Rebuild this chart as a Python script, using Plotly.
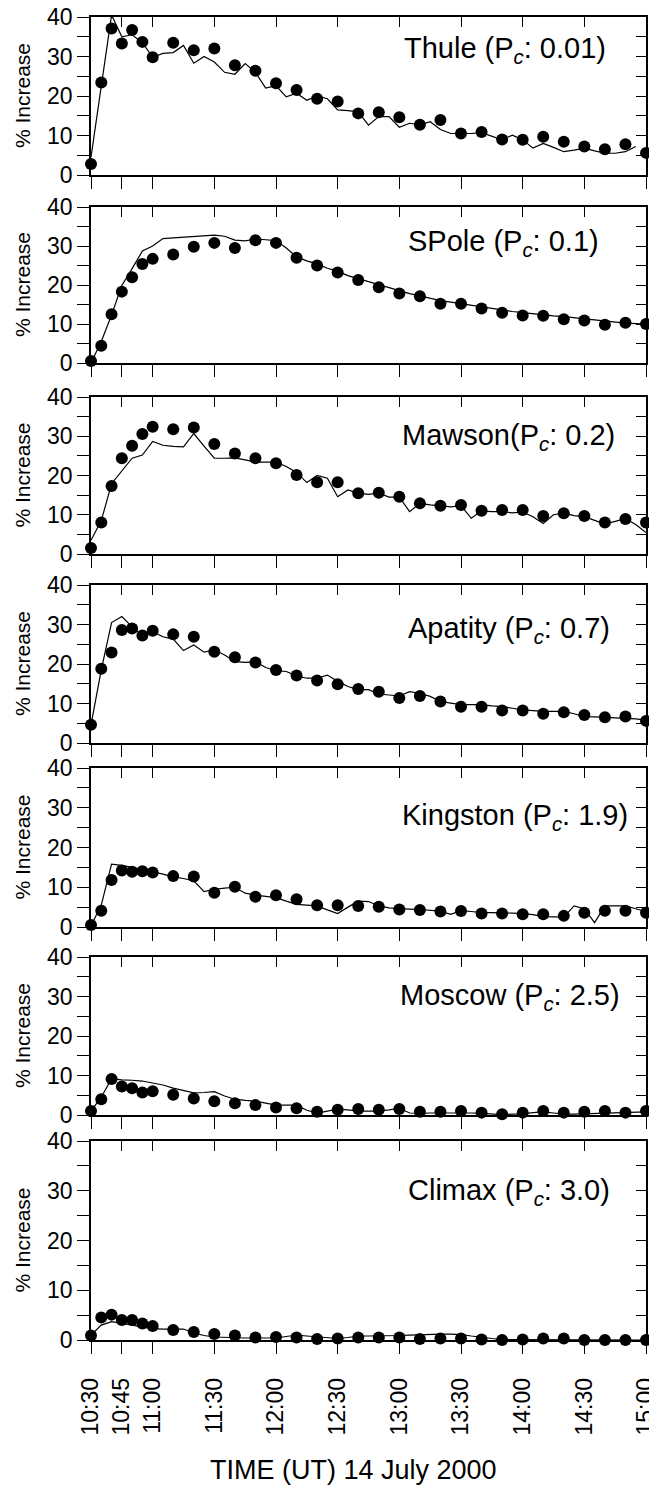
import plotly.graph_objects as go

# ---------------- data ----------------
DATE = "2000-07-14 "
obs_times = ["10:30", "10:35", "10:40", "10:45", "10:50", "10:55", "11:00",
             "11:10", "11:20", "11:30", "11:40", "11:50", "12:00", "12:10",
             "12:20", "12:30", "12:40", "12:50", "13:00", "13:10", "13:20",
             "13:30", "13:40", "13:50", "14:00", "14:10", "14:20", "14:30",
             "14:40", "14:50", "15:00"]
model_times = ["10:30", "10:35", "10:40", "10:45", "10:50", "10:55", "11:00",
               "11:05", "11:10", "11:15", "11:20", "11:25", "11:30", "11:35",
               "11:40", "11:45", "11:50", "11:55", "12:00", "12:05", "12:10",
               "12:15", "12:20", "12:25", "12:30", "12:35", "12:40", "12:45",
               "12:50", "12:55", "13:00", "13:05", "13:10", "13:15", "13:20",
               "13:25", "13:30", "13:35", "13:40", "13:45", "13:50", "13:55",
               "14:00", "14:05", "14:10", "14:15", "14:20", "14:25", "14:30",
               "14:35", "14:40", "14:45", "14:50", "14:55", "15:00"]
tick_labels = ["10:30", "10:45", "11:00", "11:30", "12:00", "12:30", "13:00",
               "13:30", "14:00", "14:30", "15:00"]

stations = ["Thule", "SPole", "Mawson", "Apatity", "Kingston", "Moscow", "Climax"]
cutoff = ["0.01", "0.1", "0.2", "0.7", "1.9", "2.5", "3.0"]

thule_obs = [2.8, 23.4, 37.1, 33.3, 36.7, 33.7, 29.8, 33.5, 31.6, 32.0, 27.8,
             26.4, 23.2, 21.5, 19.3, 18.6, 15.6, 15.9, 14.6, 12.7, 13.9, 10.5,
             10.9, 9.0, 8.9, 9.7, 8.4, 7.2, 6.5, 7.8, 5.6]
thule_model = [4.5, 23.0, 40.5, 35.0, 35.5, 33.5, 29.8, 30.8, 31.0, 32.8, 28.3,
               30.0, 28.6, 26.0, 25.5, 28.2, 26.0, 22.0, 22.6, 19.8, 20.7, 18.9,
               20.0, 19.3, 16.5, 16.3, 16.0, 12.6, 14.8, 14.8, 12.1, 13.1, 12.7,
               13.5, 11.5, 10.5, 10.5, 10.5, 10.7, 9.8, 8.9, 10.1, 8.9, 6.8,
               8.0, 7.0, 5.9, 6.3, 6.8, 6.1, 5.5, 5.5, 5.9, 7.2, None]

spole_obs = [0.5, 4.4, 12.5, 18.3, 22.0, 25.4, 26.7, 27.8, 29.8, 30.8, 29.5,
             31.5, 30.8, 27.0, 25.0, 23.2, 21.3, 19.4, 17.8, 17.1, 15.2, 15.2,
             14.0, 12.9, 12.2, 12.1, 11.2, 10.9, 9.8, 10.3, 10.0]
spole_model = [0.0, 5.5, 12.3, 19.9, 24.2, 28.7, 30.0, 31.9, 32.1, 32.3, 32.4,
               32.6, 32.8, 32.5, 31.5, 31.3, 31.8, 31.6, 31.4, 29.5, 27.2, 26.2,
               25.4, 24.3, 23.5, 22.4, 21.6, 20.8, 20.1, 19.3, 18.5, 17.8, 17.2,
               16.6, 16.0, 15.6, 15.2, 14.8, 14.3, 13.9, 13.5, 13.2, 12.9, 12.6,
               12.3, 12.1, 11.9, 11.6, 11.3, 11.0, 10.7, 10.4, 10.2, 10.1, 10.0]

mawson_obs = [1.5, 8.0, 17.3, 24.4, 27.6, 30.6, 32.4, 31.8, 32.2, 28.0, 25.6,
              24.4, 23.1, 20.1, 18.3, 18.3, 15.5, 15.6, 14.6, 12.9, 12.3, 12.5,
              11.0, 11.2, 11.2, 9.7, 10.4, 9.7, 8.0, 8.9, 8.0]
mawson_model = [3.5, 8.5, 17.9, 21.2, 24.4, 25.2, 28.7, 27.7, 27.4, 27.3, 30.7,
                27.5, 24.4, 24.4, 24.5, 24.0, 23.4, 23.4, 23.4, 22.3, 20.8, 18.2,
                20.0, 19.3, 14.6, 16.3, 15.5, 15.2, 15.5, 14.5, 14.5, 10.8, 12.9,
                12.5, 12.3, 12.0, 12.3, 9.1, 11.0, 10.8, 10.8, 10.5, 10.7, 9.5,
                7.8, 10.0, 10.4, 9.8, 9.5, 8.5, 7.6, 8.3, 9.0, 7.5, 5.5]

apatity_obs = [4.6, 18.8, 22.9, 28.6, 29.0, 27.2, 28.4, 27.5, 26.9, 23.1, 21.7,
               20.4, 18.5, 17.1, 15.8, 14.9, 13.7, 13.0, 11.4, 11.9, 10.5, 9.2,
               9.2, 8.2, 8.2, 7.4, 7.8, 7.1, 6.5, 6.7, 5.6]
apatity_model = [4.6, 18.5, 30.5, 32.0, 29.4, 27.3, 28.2, 26.9, 26.3, 23.4, 24.8,
                 23.0, 23.6, 22.3, 20.6, 20.4, 20.6, 19.1, 18.3, 18.1, 17.0, 16.4,
                 16.4, 17.2, 15.6, 14.3, 13.5, 13.5, 12.4, 12.2, 11.9, 13.0, 12.6,
                 11.8, 10.5, 10.1, 9.7, 9.7, 9.7, 9.4, 9.2, 8.8, 8.4, 8.2, 8.0,
                 8.0, 8.0, 7.4, 6.7, 6.6, 6.5, 6.4, 6.3, 6.1, 5.8]

kingston_obs = [0.5, 4.1, 11.8, 14.2, 13.9, 14.0, 13.7, 12.8, 12.7, 8.6, 10.1,
                7.6, 8.0, 7.0, 5.5, 5.5, 5.3, 5.1, 4.4, 4.3, 3.9, 4.0, 3.4, 3.4,
                3.2, 3.2, 2.8, 3.6, 4.1, 4.1, 3.6]
kingston_model = [0.3, 5.5, 15.8, 15.5, 15.0, 14.5, 13.9, 13.3, 12.6, 12.2, 11.6,
                  8.9, 9.5, 9.8, 10.0, 8.5, 8.0, 7.7, 7.4, 6.5, 5.7, 5.5, 5.3,
                  4.3, 3.4, 5.0, 6.5, 6.4, 5.3, 4.8, 4.6, 4.5, 4.4, 4.2, 4.0, 3.2,
                  4.1, 3.9, 3.6, 3.6, 3.6, 3.5, 3.4, 3.1, 2.6, 2.6, 2.5, 5.3, 4.6,
                  1.1, 5.3, 5.3, 5.3, 4.6, 3.9]

moscow_obs = [1.0, 4.0, 9.1, 7.2, 6.8, 5.7, 6.0, 5.1, 4.2, 3.5, 3.0, 2.5, 1.9,
              1.7, 0.8, 1.3, 1.5, 1.3, 1.5, 0.8, 0.8, 1.0, 0.6, 0.2, 0.6, 1.0,
              0.6, 0.8, 1.0, 0.6, 1.0]
moscow_model = [1.0, 4.5, 9.2, 8.9, 8.8, 8.6, 8.1, 7.6, 6.8, 6.2, 5.6, 5.7, 5.9,
                4.8, 4.0, 3.7, 3.5, 3.0, 2.5, 2.5, 2.5, 1.2, 0.5, 1.0, 1.5, 1.3,
                1.0, 1.0, 1.0, 1.3, 1.7, 0.5, 0.4, 0.5, 0.5, 0.6, 0.6, 0.5, 0.4,
                0.2, 0.1, 0.2, 0.3, 0.6, 0.8, 0.5, 0.2, 0.2, 0.3, 0.4, 0.5, 0.6,
                0.7, 0.7, 0.8]

climax_obs = [0.9, 4.5, 5.1, 4.0, 4.0, 3.3, 2.8, 2.0, 1.6, 1.2, 0.9, 0.5, 0.6,
              0.5, 0.2, 0.3, 0.5, 0.5, 0.5, 0.2, 0.3, 0.3, 0.1, 0.0, 0.1, 0.3,
              0.3, 0.0, 0.0, 0.0, 0.0]
climax_model = [1.0, 3.0, 3.7, 3.4, 3.0, 2.6, 2.3, 2.2, 2.2, 2.2, 1.4, 0.9, 0.6,
                0.5, 0.5, 0.4, 0.4, 0.4, 0.4, 0.7, 1.0, 0.8, 0.6, 0.4, 0.3, 0.5,
                0.8, 0.8, 0.8, 0.8, 0.9, 1.0, 1.1, 1.2, 1.2, 1.2, 1.1, 0.8, 0.5,
                0.3, 0.1, 0.1, 0.1, 0.0, 0.0, 0.0, 0.0, 0.0, 0.0, 0.0, 0.0, 0.0,
                0.0, 0.0, 0.0]

obs_series = [thule_obs, spole_obs, mawson_obs, apatity_obs, kingston_obs,
              moscow_obs, climax_obs]
model_series = [thule_model, spole_model, mawson_model, apatity_model,
                kingston_model, moscow_model, climax_model]

# ---------------- layout (pixels of the 657x1498 window) ----------------
PAGE_W, PAGE_H = 657, 1498
OFF = 8                      # default page margin around the figure div
W, H = PAGE_W - OFF, PAGE_H - OFF
X0, X1 = 91, 646
panel_px = [(17, 175), (207, 363), (397, 554), (585, 743),
            (768, 927), (957, 1115), (1141, 1340)]
label_pos = [(608, 50), (601, 243), (617, 437), (612, 630),
             (630, 817), (622, 997), (612, 1192)]
label_sep = [" ", " ", "", " ", " ", " ", " "]

FONT = "Liberation Sans, Arial, Helvetica, sans-serif"
INK = "black"


def fx(px):
    return (px - OFF) / W


def fy(px):
    return 1 - (px - OFF) / H


def sfx(n):
    return "" if n == 1 else str(n)


obs_x = [DATE + t for t in obs_times]
model_x = [DATE + t for t in model_times]
tick_x = [DATE + t for t in tick_labels]
x_range = [DATE + "10:30", DATE + "15:00"]

fig = go.Figure()
layout = {}
annotations = []

for i in range(7):
    nb, nt = 2 * i + 1, 2 * i + 2
    xb, xt = "x" + sfx(nb), "x" + sfx(nt)
    yl, yr = "y" + sfx(nb), "y" + sfx(nt)

    fig.add_trace(go.Scatter(x=model_x, y=model_series[i], mode="lines",
                             line=dict(color=INK, width=1.2),
                             xaxis=xb, yaxis=yl, showlegend=False,
                             hoverinfo="skip"))
    fig.add_trace(go.Scatter(x=obs_x, y=obs_series[i], mode="markers",
                             marker=dict(size=12, color=INK),
                             xaxis=xb, yaxis=yl, showlegend=False,
                             cliponaxis=False))
    fig.add_trace(go.Scatter(x=[None], y=[None], mode="markers",
                             xaxis=xt, yaxis=yr, showlegend=False,
                             hoverinfo="skip"))

    top, bot = panel_px[i]
    common_x = dict(type="date", range=x_range, tickvals=tick_x,
                    ticktext=tick_labels, showgrid=False, zeroline=False,
                    showline=True, linecolor=INK, linewidth=1.5,
                    tickcolor=INK, tickwidth=1.3, automargin=False)
    layout["xaxis" + sfx(nb)] = dict(
        common_x, domain=[fx(X0), fx(X1)], anchor=yl,
        ticks="outside", ticklen=12,
        showticklabels=(i == 6), tickangle=-90,
        ticklabeloverflow="allow", ticklabelstandoff=15,
        tickfont=dict(family=FONT, size=23, color=INK))
    layout["xaxis" + sfx(nt)] = dict(
        common_x, overlaying=xb, side="top", anchor=yl,
        ticks="inside", ticklen=10, showticklabels=False)

    common_y = dict(range=[0, 40], showgrid=False, zeroline=False,
                    showline=True, linecolor=INK, linewidth=1.5,
                    tickcolor=INK, tickwidth=1.3, automargin=False)
    layout["yaxis" + sfx(nb)] = dict(
        common_y, domain=[fy(bot), fy(top)], anchor=xb,
        tickvals=[0, 10, 20, 30, 40], ticks="outside", ticklen=12,
        ticklabeloverflow="allow",
        minor=dict(tickvals=[5, 15, 25, 35], ticks="outside", ticklen=12,
                   tickcolor=INK, tickwidth=1.3, showgrid=False),
        tickfont=dict(family=FONT, size=23, color=INK))
    layout["yaxis" + sfx(nt)] = dict(
        common_y, overlaying=yl, side="right", anchor=xb,
        tickvals=[0, 5, 10, 15, 20, 25, 30, 35, 40], ticks="inside",
        ticklen=10, showticklabels=False)

    lx, ly = label_pos[i]
    annotations.append(dict(
        text=f"{stations[i]}{label_sep[i]}(P<sub><i>c</i></sub>: {cutoff[i]})",
        x=fx(lx), y=fy(ly), xref="paper", yref="paper",
        xanchor="right", yanchor="middle", showarrow=False,
        font=dict(family=FONT, size=29, color=INK)))
    annotations.append(dict(
        text="% Increase", textangle=-90,
        x=fx(22), y=fy((top + bot) / 2), xref="paper", yref="paper",
        xanchor="center", yanchor="middle", showarrow=False,
        font=dict(family=FONT, size=21, color=INK)))

annotations.append(dict(
    text="TIME (UT) 14 July 2000", x=fx(353), y=fy(1470),
    xref="paper", yref="paper", xanchor="center", yanchor="middle",
    showarrow=False, font=dict(family=FONT, size=27, color=INK)))

fig.update_layout(
    width=W, height=H, autosize=False, template="none",
    margin=dict(l=0, r=0, t=0, b=0, pad=0),
    paper_bgcolor="white", plot_bgcolor="white",
    font=dict(family=FONT, color=INK),
    annotations=annotations,
    **layout)

fig.write_html("out.html")
